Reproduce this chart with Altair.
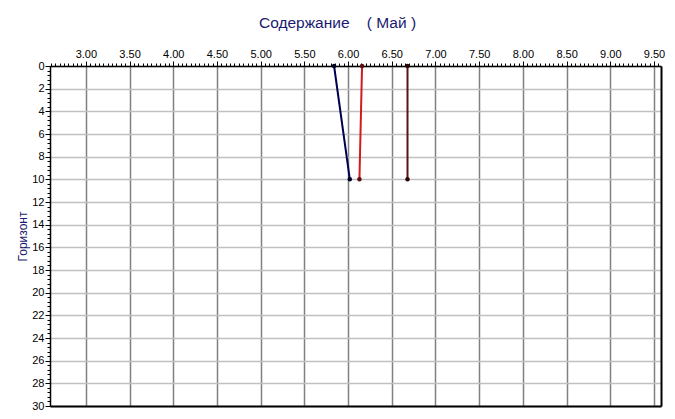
import altair as alt
import pandas as pd

depths = [0, 10]
series_names = ["A", "B", "C"]
series_a = [5.84, 6.02]
series_b = [6.16, 6.13]
series_c = [6.68, 6.68]
line_colors = ["#00004e", "#d01c1c", "#5a1414"]
point_colors = ["#000022", "#5a1010", "#2a0606"]

x_major = [3.00, 3.50, 4.00, 4.50, 5.00, 5.50, 6.00, 6.50, 7.00, 7.50, 8.00, 8.50, 9.00, 9.50]
y_major = [0, 2, 4, 6, 8, 10, 12, 14, 16, 18, 20, 22, 24, 26, 28, 30]
x_minor = [round(2.60 + 0.05 * i, 2) for i in range(140)]
y_minor = [round(0.4 * i, 1) for i in range(76)]

rows = []
for name, vals in zip(series_names, [series_a, series_b, series_c]):
    for d, v in zip(depths, vals):
        rows.append({"series": name, "pt": name + "p", "depth": d, "value": v})
df = pd.DataFrame(rows)

FONT = "Liberation Sans"
xscale = alt.Scale(domain=[2.59, 9.58], nice=False, zero=False)
yscale = alt.Scale(domain=[0, 30], reverse=True, nice=False, zero=False)

# frame: bottom and right borders drawn as axis domains
frame = alt.Chart(df).mark_point(opacity=0).encode(
    x=alt.X("value:Q", scale=xscale,
            axis=alt.Axis(orient="bottom", labels=False, ticks=False, grid=False,
                          domainColor="black", domainWidth=2, title=None)),
    y=alt.Y("depth:Q", scale=yscale,
            axis=alt.Axis(orient="right", labels=False, ticks=False, grid=False,
                          domainColor="black", domainWidth=2, title=None)),
)

lines = alt.Chart(df).mark_line(strokeWidth=2).encode(
    x=alt.X("value:Q", scale=xscale,
            axis=alt.Axis(orient="top", values=x_major, format=".2f", grid=True,
                          gridColor="#808080", gridWidth=1.5, tickSize=5, tickColor="black",
                          domainColor="black", domainWidth=1.5, labelPadding=2,
                          labelFont=FONT, labelFontSize=11, labelColor="black", title=None)),
    y=alt.Y("depth:Q", scale=yscale,
            axis=alt.Axis(orient="left", values=y_major, grid=True, gridColor="#c0c0c0",
                          gridWidth=1.5, tickSize=5, tickColor="black", domainColor="black",
                          domainWidth=1.5, labelPadding=1, labelFont=FONT, labelFontSize=11,
                          labelColor="black", title="Горизонт", titleFont=FONT,
                          titleFontSize=12, titleFontWeight="normal", titleColor="#1a1a70",
                          titlePadding=2)),
    color=alt.Color("series:N", scale=alt.Scale(domain=series_names, range=line_colors), legend=None),
    order="depth:Q",
)

points = alt.Chart(df).mark_point(filled=True, size=20, opacity=1, clip=False).encode(
    x=alt.X("value:Q", scale=xscale,
            axis=alt.Axis(orient="top", values=x_minor, labels=False, grid=False, tickSize=3,
                          tickColor="black", domain=False, title=None)),
    y=alt.Y("depth:Q", scale=yscale,
            axis=alt.Axis(orient="left", values=y_minor, labels=False, grid=False, tickSize=3,
                          tickColor="black", domain=False, title=None)),
    color=alt.Color("pt:N", scale=alt.Scale(domain=[s + "p" for s in series_names], range=point_colors), legend=None),
)

chart = alt.layer(frame, lines, points).resolve_axis(
    x="independent", y="independent"
).resolve_scale(color="independent").properties(
    width=611, height=340,
    autosize=alt.AutoSizeParams(type="none"),
    padding={"left": 42, "top": 58, "right": 6, "bottom": 5},
    title=alt.TitleParams("Содержание\u00a0\u00a0\u00a0\u00a0( Май )", font=FONT, fontSize=15.5,
                          fontWeight="normal", color="#1a1a70", anchor="middle", dx=-18,
                          offset=17),
).configure_view(strokeWidth=0)

chart.save("out.html", embed_options={"renderer": "svg", "actions": False})
